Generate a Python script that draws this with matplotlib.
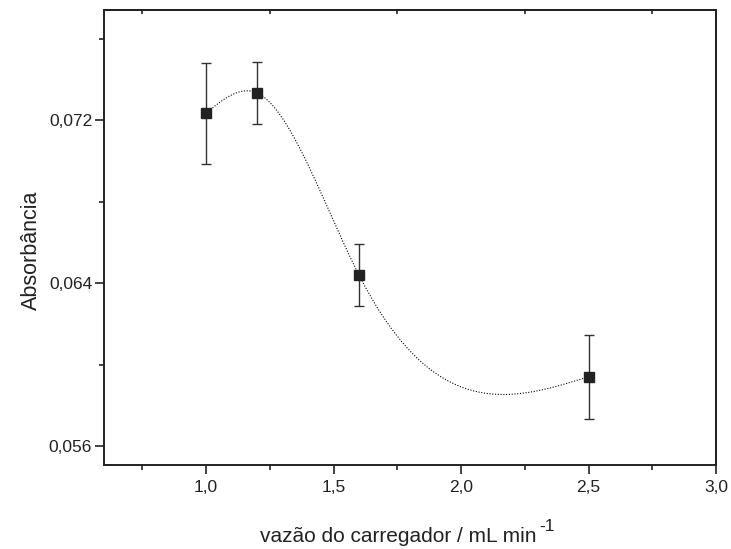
import numpy as np
import matplotlib
matplotlib.use("Agg")
import matplotlib.pyplot as plt
from matplotlib.ticker import FuncFormatter, MultipleLocator

plt.rcParams['font.family'] = ['Liberation Sans', 'DejaVu Sans']

# data
vazao = [1.0, 1.2, 1.6, 2.5]
absorbancia = [0.07234, 0.07333, 0.06439, 0.0594]
erro = [0.00248, 0.00153, 0.00152, 0.00206]

INK = '#222222'


def natural_spline(x, y, xs):
    """Natural cubic spline through the points (for the dotted guide line)."""
    x = np.asarray(x, float)
    y = np.asarray(y, float)
    n = len(x)
    h = np.diff(x)
    A = np.zeros((n, n))
    b = np.zeros(n)
    A[0, 0] = 1
    A[-1, -1] = 1
    for i in range(1, n - 1):
        A[i, i - 1] = h[i - 1]
        A[i, i] = 2 * (h[i - 1] + h[i])
        A[i, i + 1] = h[i]
        b[i] = 3 * ((y[i + 1] - y[i]) / h[i] - (y[i] - y[i - 1]) / h[i - 1])
    c = np.linalg.solve(A, b)
    out = np.empty_like(xs)
    for k, xv in enumerate(xs):
        i = min(max(np.searchsorted(x, xv, side='right') - 1, 0), n - 2)
        dx = xv - x[i]
        bi = (y[i + 1] - y[i]) / h[i] - h[i] * (2 * c[i] + c[i + 1]) / 3
        di = (c[i + 1] - c[i]) / (3 * h[i])
        out[k] = y[i] + bi * dx + c[i] * dx ** 2 + di * dx ** 3
    return out


W, H = 731, 549
fig = plt.figure(figsize=(W / 100, H / 100), dpi=100)
ax = fig.add_axes([104 / W, 1 - 465 / H, (716 - 104) / W, (465 - 10) / H])

xs = np.linspace(vazao[0], vazao[-1], 300)
ax.plot(xs, natural_spline(vazao, absorbancia, xs), color='black',
        linestyle=(0, (1, 1.5)), linewidth=0.8)
ax.errorbar(vazao, absorbancia, yerr=erro, fmt='s', color=INK,
            ecolor='#333333', elinewidth=1, capsize=3.8, capthick=1,
            markersize=7)

ax.set_xlim(0.6, 3.0)
ax.set_ylim(0.05507, 0.0774)
ax.xaxis.set_major_locator(MultipleLocator(0.5))
ax.xaxis.set_minor_locator(MultipleLocator(0.25))
ax.yaxis.set_major_locator(MultipleLocator(0.008))
ax.yaxis.set_minor_locator(MultipleLocator(0.004))
ax.xaxis.set_major_formatter(FuncFormatter(lambda v, p: f"{v:.1f}".replace('.', ',')))
ax.yaxis.set_major_formatter(FuncFormatter(lambda v, p: f"{v:.3f}".replace('.', ',')))

ax.tick_params(which='both', direction='out', top=False, right=False,
               labelsize=12.5, color=INK, labelcolor=INK, width=1.2)
ax.tick_params(which='major', length=6.5)
ax.tick_params(which='minor', length=3.3)
ax.tick_params(axis='x', which='major', pad=4)
ax.tick_params(axis='y', which='major', pad=2)

# inward ticks on top and right like the original
ax2 = ax.secondary_xaxis('top')
ax2.xaxis.set_major_locator(MultipleLocator(0.5))
ax2.xaxis.set_minor_locator(MultipleLocator(0.25))
ax2.tick_params(which='both', direction='in', labeltop=False, width=1.2, color=INK)
ax2.tick_params(which='major', length=0.8)
ax2.tick_params(which='minor', length=3)
ax3 = ax.secondary_yaxis('right')
ax3.yaxis.set_major_locator(MultipleLocator(0.008))
ax3.yaxis.set_minor_locator(MultipleLocator(0.004))
ax3.tick_params(which='both', direction='in', labelright=False, width=1.2,
                color=INK, length=1)
for a in (ax, ax2, ax3):
    for s in a.spines.values():
        s.set_linewidth(1.4)
        s.set_color(INK)

fig.text(31 / W, 1 - 250 / H, 'Absorbância', rotation=90, ha='center',
         va='center', fontsize=15.5, color=INK)
xl = fig.text(260 / W, 1 - 542 / H, 'vazão do carregador / mL min', ha='left',
              va='baseline', fontsize=15, color=INK)
fig.canvas.draw()
bb = xl.get_window_extent(fig.canvas.get_renderer())
fig.text((bb.x1 + 3) / W, 1 - 531 / H, '-1', ha='left', va='baseline',
         fontsize=12.5, color=INK)

fig.savefig('out.png', dpi=100)
